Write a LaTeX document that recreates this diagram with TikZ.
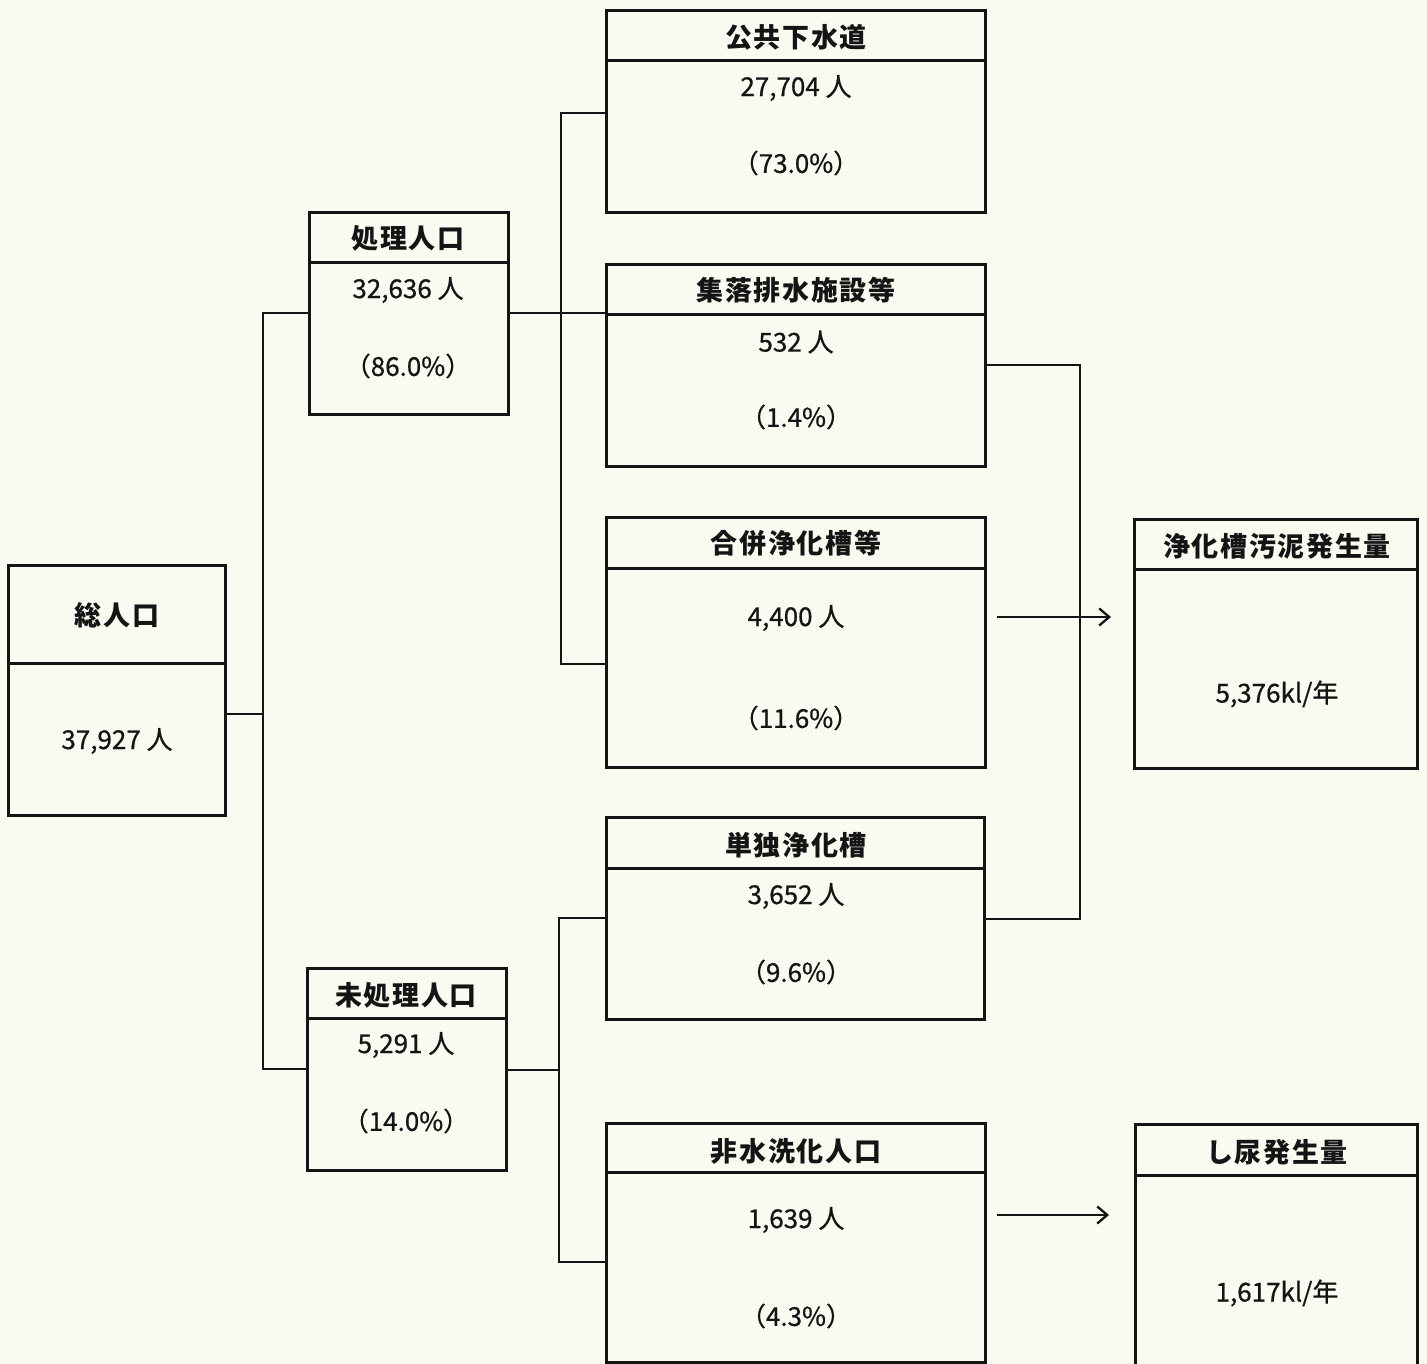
\documentclass[tikz,border=0pt]{standalone}
\usepackage{fontspec}
\setmainfont{Noto Sans CJK JP}
\newfontfamily\ttlfont[LetterSpace=6]{Noto Sans CJK JP}
\newfontfamily\valfont[FakeBold=0.7]{Noto Sans CJK JP}
\newfontfamily\pctfont[RawFeature=+halt,FakeBold=0.7]{Noto Sans CJK JP}
\usetikzlibrary{fit,arrows.meta}
\definecolor{paper}{RGB}{250,250,240}
\definecolor{ink}{RGB}{20,20,20}
\tikzset{
  boxst/.style={draw=ink, line width=3pt, inner sep=0pt},
  divst/.style={draw=ink, line width=3pt},
  conn/.style={draw=ink, line width=2.8pt},
  arr/.style={draw=ink, line width=2.3pt, -{Straight Barb[length=10pt,width=17pt,line width=2.3pt]}},
  ttl/.style={inner sep=0pt, font=\ttlfont\bfseries\fontsize{27}{29}\selectfont, text=ink},
  val/.style={inner sep=0pt, font=\valfont\fontsize{26}{28}\selectfont, text=ink},
  pct/.style={inner sep=0pt, font=\pctfont\fontsize{26}{28}\selectfont, text=ink},
}
\begin{document}
\begin{tikzpicture}[x=1pt,y=-1pt]
\fill[paper] (0,0) rectangle (1427,1364);
\useasboundingbox (0,0) rectangle (1427,1364);
\clip (0,0) rectangle (1427,1364);

% boxes
\node[boxst, fit={(8,565) (225,815)}] (tot) {};
\node[boxst, fit={(309,213) (508,414)}] (shori) {};
\node[boxst, fit={(307,968) (506,1170)}] (mishori) {};
\node[boxst, fit={(606,11) (985,213)}] (kokyo) {};
\node[boxst, fit={(606,265) (985,466)}] (shuraku) {};
\node[boxst, fit={(606,517) (985,767)}] (gappei) {};
\node[boxst, fit={(606,817) (984,1019)}] (tandoku) {};
\node[boxst, fit={(606,1123) (985,1362)}] (hisui) {};
\node[boxst, fit={(1134,519) (1417,768)}] (odei) {};
\node[boxst, fit={(1135,1124) (1417,1390)}] (shinyo) {};

% dividers
\draw[divst] (tot.west |- 0,663) -- (tot.east |- 0,663);
\draw[divst] (shori.west |- 0,263) -- (shori.east |- 0,263);
\draw[divst] (mishori.west |- 0,1018) -- (mishori.east |- 0,1018);
\draw[divst] (kokyo.west |- 0,61) -- (kokyo.east |- 0,61);
\draw[divst] (shuraku.west |- 0,315) -- (shuraku.east |- 0,315);
\draw[divst] (gappei.west |- 0,568) -- (gappei.east |- 0,568);
\draw[divst] (tandoku.west |- 0,868) -- (tandoku.east |- 0,868);
\draw[divst] (hisui.west |- 0,1172) -- (hisui.east |- 0,1172);
\draw[divst] (odei.west |- 0,569) -- (odei.east |- 0,569);
\draw[divst] (shinyo.west |- 0,1175) -- (shinyo.east |- 0,1175);

% texts
\node[ttl] (totT) at (117,615) {総人口};
\node[val] (totV) at (117,741) {37,927 人};

\node[ttl] (shoriT) at (408,238) {処理人口};
\node[val] (shoriV) at (408,290) {32,636 人};
\node[pct] (shoriP) at (408,366) {（86.0\%）};

\node[ttl] (mishoriT) at (406,995) {未処理人口};
\node[val] (mishoriV) at (406,1045) {5,291 人};
\node[pct] (mishoriP) at (406,1121) {（14.0\%）};

\node[ttl] (kokyoT) at (796,37) {公共下水道};
\node[val] (kokyoV) at (796,88) {27,704 人};
\node[pct] (kokyoP) at (796,163) {（73.0\%）};

\node[ttl] (shurakuT) at (796,290) {集落排水施設等};
\node[val] (shurakuV) at (796,342) {532 人};
\node[pct] (shurakuP) at (796,417) {（1.4\%）};

\node[ttl] (gappeiT) at (796,543) {合併浄化槽等};
\node[val] (gappeiV) at (796,618) {4,400 人};
\node[pct] (gappeiP) at (796,718) {（11.6\%）};

\node[ttl] (tandokuT) at (796,845) {単独浄化槽};
\node[val] (tandokuV) at (796,896) {3,652 人};
\node[pct] (tandokuP) at (796,972) {（9.6\%）};

\node[ttl] (hisuiT) at (796,1151) {非水洗化人口};
\node[val] (hisuiV) at (796,1220) {1,639 人};
\node[pct] (hisuiP) at (796,1316) {（4.3\%）};

\node[ttl] (odeiT) at (1277,546) {浄化槽汚泥発生量};
\node[val] (odeiV) at (1277,694) {5,376kl/年};

\node[ttl] (shinyoT) at (1277,1152) {し尿発生量};
\node[val] (shinyoV) at (1277,1293) {1,617kl/年};

% junction coordinates
\coordinate (jA) at (263,714);
\coordinate (jB) at (561,313);
\coordinate (jC) at (559,1070);
\coordinate (jD) at (1080,365);
\coordinate (a1s) at (997,617);
\coordinate (a1e) at (1111,617);
\coordinate (a2s) at (997,1215);
\coordinate (a2e) at (1109,1215);

% connectors
\draw[conn] (tot.east |- jA) -- (jA);
\draw[conn] (shori.west |- 0,313) -| (jA |- 0,313) |- (mishori.west |- 0,1069);
\draw[conn] (shori.east |- 0,313) -- (shuraku.west |- 0,313);
\draw[conn] (kokyo.west |- 0,113) -| (jB) |- (gappei.west |- 0,664);
\draw[conn] (jB) -- (jB |- 0,664);
\draw[conn] (mishori.east |- jC) -- (jC);
\draw[conn] (tandoku.west |- 0,918) -| (jC |- 0,918) |- (hisui.west |- 0,1262);
\draw[conn] (shuraku.east |- jD) -- (jD) |- (tandoku.east |- 0,919);
\draw[arr] (a1s) -- (a1e);
\draw[arr] (a2s) -- (a2e);
\end{tikzpicture}
\end{document}
